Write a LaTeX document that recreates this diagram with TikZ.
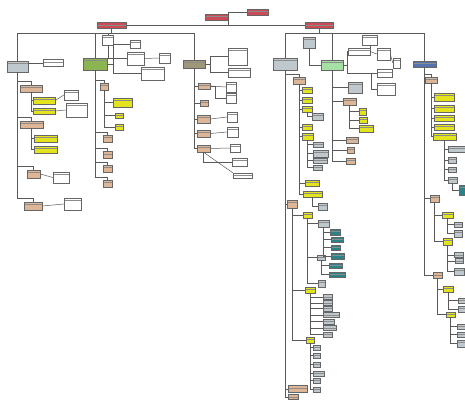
\documentclass[tikz,border=0pt]{standalone}
\usepackage{tikz}
\usetikzlibrary{positioning}
\definecolor{clsred}{RGB}{205,75,85}
\definecolor{clstan}{RGB}{222,182,150}
\definecolor{clsyel}{RGB}{228,228,30}
\definecolor{clsgrey}{RGB}{190,200,205}
\definecolor{clsteal}{RGB}{45,130,135}
\definecolor{clsolive}{RGB}{140,180,80}
\definecolor{clsmint}{RGB}{165,225,165}
\definecolor{clsblue}{RGB}{85,115,175}
\definecolor{clsdrab}{RGB}{160,150,120}
\tikzset{sz/.style 2 args={minimum width=#1pt, minimum height=#2pt},
  hdr/.style={path picture={\draw[black!45, line width=0.3pt] ([yshift=-2.5pt]path picture bounding box.north west) -- ([yshift=-2.5pt]path picture bounding box.north east);}}}
\begin{document}
\begin{tikzpicture}[x=1pt,y=-1pt]
  \tikzstyle{box}=[rectangle, draw=black!60, line width=0.4pt, inner sep=0pt]
  \tikzstyle{redbox}=[box, fill=clsred, hdr]
  \tikzstyle{tanbox}=[box, fill=clstan, hdr]
  \tikzstyle{yelbox}=[box, fill=clsyel, hdr]
  \tikzstyle{greybox}=[box, fill=clsgrey, hdr]
  \tikzstyle{whitebox}=[box, fill=white, hdr]
  \tikzstyle{tealbox}=[box, fill=clsteal, hdr]
  \tikzstyle{connect}=[draw=black!65, line width=0.5pt]
  \useasboundingbox (0,0) rectangle (465,399);
  \node[redbox, sz={21}{6}] (top) at (257.5,12) {};
  \node[redbox, sz={23}{6}] (mid) at (216.5,17) {};
  \node[redbox, sz={29}{6}] (left) at (111.5,25.5) {};
  \node[redbox, sz={28}{6}] (right) at (319,25.5) {};
  \coordinate (jn) at (228,25.5);
  \coordinate (ltop) at (17.5,33);
  \coordinate (lend) at (194,33);
  \coordinate (rtop) at (285,33);
  \coordinate (rend) at (424.5,33);
  \draw[connect] (left) -- (right);
  \draw[connect] (top.west) -| (jn);
  \draw[connect] (mid.east) -- (mid.east -| jn);
  \draw[connect] (left.south) -- (left.south |- ltop);
  \draw[connect] (ltop) -- (lend);
  \draw[connect] (right.south) -- (right.south |- rtop);
  \draw[connect] (rtop) -- (rend);
  % left column
  \node[greybox, sz={21}{11}] (a1) at (17.5,66.5) {};
  \node[whitebox, sz={20}{7}] (a1w) at (53,63) {};
  \node[tanbox, sz={22}{7}] (a2) at (31,88.5) {};
  \node[yelbox, sz={22}{7}] (y1) at (44,100.5) {};
  \node[yelbox, sz={22}{6}] (y2) at (44,111) {};
  \node[whitebox, sz={14}{10}] (w1) at (71,95) {};
  \node[whitebox, sz={21}{14}] (w2) at (76.5,110) {};
  \node[tanbox, sz={23}{7}] (a3) at (31.5,124.5) {};
  \node[yelbox, sz={23}{7}] (y3) at (45.5,138.5) {};
  \node[yelbox, sz={23}{7}] (y4) at (45.5,149.5) {};
  \node[tanbox, sz={13}{8}] (a4) at (33.5,174) {};
  \node[whitebox, sz={16}{11}] (a4w) at (61,177.5) {};
  \node[tanbox, sz={18}{8}] (a5) at (33,206) {};
  \node[whitebox, sz={17}{12}] (a5w) at (72.5,204) {};
  \draw[connect] (ltop) -- (a1);
  \draw[connect] (a1w.west -| a1.east) -- (a1w.west);
  \foreach \c in {a2,a3,a4,a5}
    \draw[connect] (\c.north) -- ++(0,-4) -| (a1.south);
  \draw[connect] (a2.south) |- (y1.west);
  \draw[connect] (a2.south) |- (y2.west);
  \draw[connect] (y1.east) -- (w1.west);
  \draw[connect] (y2.east) -- (w2.west);
  \draw[connect] (a3.south) |- (y3.west);
  \draw[connect] (a3.south) |- (y4.west);
  \draw[connect] (a4.east) -- (a4w.west);
  \draw[connect] (a5.east) -- (a5w.west);
  % second column
  \node[whitebox, sz={11}{10}] (b0) at (108,40) {};
  \node[box, fill=clsolive, hdr, sz={24}{12}] (b1) at (95,64) {};
  \node[whitebox, sz={10}{8}] (bw1) at (135,44) {};
  \node[whitebox, sz={17}{13}] (bw2) at (135.5,58.5) {};
  \node[whitebox, sz={11}{10}] (bw3) at (164.5,58) {};
  \node[whitebox, sz={23}{13}] (bw4) at (152.5,73.5) {};
  \node[tanbox, sz={8}{7}] (b2) at (104.5,86.5) {};
  \node[yelbox, sz={19}{9}] (b3) at (122.5,102.5) {};
  \node[yelbox, sz={8}{5}] (b4) at (119,115.5) {};
  \node[yelbox, sz={8}{6}] (b5) at (119,127) {};
  \foreach \n/\y in {6/138.5,7/155,8/168.5,9/183.5}
    \node[tanbox, sz={9}{7}] (b\n) at (107.5,\y) {};
  \draw[connect] (b1.north) -- (b1.north |- ltop);
  \draw[connect] (b0.north) -- (b0.north |- ltop);
  \draw[connect] (b0.south) -- (b0.south |- b1.north);
  \draw[connect] (b1.east) -- ++(6,0) |- (bw1.west);
  \draw[connect] (bw2.west) -- (bw2.west -| b1.east);
  \draw[connect] (bw2.east) -- (bw3.west);
  \draw[connect] (b1.east) -- ++(6,0) |- (bw4.west);
  \foreach \c in {b2,b6,b7,b8,b9}
    \draw[connect] (\c.north) -- ++(0,-3) -| (b1.south);
  \foreach \c in {b3,b4,b5}
    \draw[connect] (b2.south) |- (\c.west);
  % third column
  \node[box, fill=clsdrab, hdr, sz={22}{8}] (c1) at (194,64) {};
  \node[whitebox, sz={19}{17}] (cw1) at (237.5,56.5) {};
  \node[whitebox, sz={22}{9}] (cw2) at (239,72.5) {};
  \node[tanbox, sz={12}{6}] (c2) at (204,86) {};
  \node[whitebox, sz={10}{10}] (c2a) at (231,87) {};
  \node[whitebox, sz={10}{10}] (c2b) at (231,98) {};
  \node[tanbox, sz={8}{6}] (c3) at (204,103) {};
  \node[tanbox, sz={13}{8}] (c4) at (203.5,119) {};
  \node[whitebox, sz={10}{10}] (c4a) at (232,117) {};
  \node[tanbox, sz={13}{7}] (c5) at (203.5,133.5) {};
  \node[whitebox, sz={11}{10}] (c5a) at (232.5,132) {};
  \node[tanbox, sz={13}{7}] (c6) at (203.5,148.5) {};
  \node[whitebox, sz={10}{8}] (c6a) at (235,148) {};
  \node[whitebox, sz={15}{8}] (c6b) at (239.5,162) {};
  \node[whitebox, sz={19}{5}] (c6c) at (242.5,175.5) {};
  \draw[connect] (lend) -- (c1);
  \draw[connect] (c1.east) -- ++(5,0) |- (cw1.west);
  \draw[connect] (c1.east) -- ++(5,0) |- (cw2.west);
  \foreach \c in {c2,c3,c4,c5,c6}
    \draw[connect] (\c.west) -| (c1.south);
  \draw[connect] (c2.east) -- (c2a.west);
  \draw[connect] (c2.east) -- ++(5,0) |- (c2b.west);
  \draw[connect] (c4.east) -- (c4a.west);
  \draw[connect] (c5.east) -- (c5a.west);
  \draw[connect] (c6.east) -- (c6a.west);
  \draw[connect] (c6.south) |- (c6b.west);
  \draw[connect] (c6.south) -- (c6c.north west);
  % right half, first trunk
  \node[greybox, sz={24}{12}] (d1) at (285,64) {};
  \node[tanbox, sz={12}{7}] (d2) at (299,80.5) {};
  \foreach \n/\y in {1/90,2/100,3/109,4/127}
    \node[yelbox, sz={10}{6}] (dy\n) at (307,\y) {};
  \node[yelbox, sz={11}{7}] (dy5) at (307.5,136.5) {};
  \node[yelbox, sz={14}{6}] (dy6) at (312,183) {};
  \node[yelbox, sz={19}{6}] (dy7) at (312.5,194) {};
  \node[greybox, sz={11}{7}] (dg1) at (317.5,116.5) {};
  \node[greybox, sz={10}{5}] (dh1) at (318,144.5) {};
  \node[greybox, sz={15}{7}] (dh2) at (320.5,153.5) {};
  \node[greybox, sz={14}{5}] (dh3) at (320,160.5) {};
  \node[greybox, sz={9}{5}] (dh4) at (317.5,167.5) {};
  \node[greybox, sz={9}{7}] (dg7) at (322.5,206.5) {};
  \draw[connect] (rtop) -- (d1);
  \draw[connect] (d2.north) -- ++(0,-3) -| (d1.south);
  \foreach \n in {1,...,7}
    \draw[connect] (d2.south) |- (dy\n.west);
  \draw[connect] (dy3.south) |- (dg1.west);
  \foreach \n in {1,...,4}
    \draw[connect] (dy5.south) |- (dh\n.west);
  \draw[connect] (dy7.south) |- (dg7.west);
  \node[tanbox, sz={10}{8}] (d3) at (292,204) {};
  \node[yelbox, sz={9}{6}] (dy8) at (307.5,215) {};
  \node[greybox, sz={11}{7}] (dg2) at (323.5,223.5) {};
  \node[tealbox, sz={10}{6}] (t1) at (335,232) {};
  \node[tealbox, sz={12}{5}] (t2) at (337,239.5) {};
  \node[tealbox, sz={9}{5}] (t3) at (335.5,247.5) {};
  \node[tealbox, sz={13}{6}] (t4) at (337.5,256) {};
  \node[greybox, sz={8}{5}] (dg3) at (321,257.5) {};
  \node[tealbox, sz={13}{5}] (t5) at (335.5,265.5) {};
  \node[tealbox, sz={16}{5}] (t6) at (337,274.5) {};
  \node[greybox, sz={7}{7}] (dg4) at (321.5,283.5) {};
  \node[yelbox, sz={10}{6}] (dy9) at (310,290) {};
  \node[yelbox, sz={8}{6}] (dy10) at (310,340) {};
  \draw[connect] (d3.west) -| (d1.south);
  \foreach \c in {dy8,dy9,dy10}
    \draw[connect] (d3.south) |- (\c.west);
  \foreach \c in {dg2,dg3,dg4}
    \draw[connect] (dy8.south) |- (\c.west);
  \foreach \c in {t1,t2,t3,t4}
    \draw[connect] (dg2.south) |- (\c.west);
  \foreach \c in {t5,t6}
    \draw[connect] (dg3.south) |- (\c.west);
  \foreach \n/\y/\w in {1/297/9,2/303/9,3/308.5/9,4/315/16,5/321.5/11,6/328/13,7/334.5/9} {
    \node[greybox, sz={\w}{5}, anchor=west] (dp\n) at (323,\y) {};
    \draw[connect] (dy9.south) |- (dp\n.west);
  }
  \foreach \n/\y/\w in {1/347.5/7,2/355.5/7,3/364.5/7,4/373.5/11,5/380.5/7,6/389.5/7} {
    \node[greybox, sz={\w}{5}, anchor=west] (dq\n) at (313,\y) {};
    \draw[connect] (dy10.south) |- (dq\n.west);
  }
  \node[tanbox, sz={19}{7}] (d4) at (297.5,389) {};
  \node[tanbox, sz={10}{5}] (d5) at (293,397) {};
  \draw[connect] (d4.west) -| (d1.south);
  \draw[connect] (d5.west) -| (d1.south);
  % right half, second trunk
  \node[greybox, sz={12}{11}] (e0) at (309,42.5) {};
  \node[box, fill=clsmint, hdr, sz={22}{10}] (e1) at (332,65) {};
  \node[whitebox, sz={15}{10}] (ea) at (370,40) {};
  \node[whitebox, sz={22}{7}] (eb) at (359,51.5) {};
  \node[whitebox, sz={13}{12}] (ec) at (383.5,54) {};
  \node[whitebox, sz={7}{10}] (ed) at (396.5,63) {};
  \node[whitebox, sz={15}{8}] (ee) at (384.5,73.5) {};
  \node[whitebox, sz={18}{12}] (ef) at (386,89) {};
  \node[greybox, sz={14}{11}] (eg) at (355,87.5) {};
  \node[tanbox, sz={13}{7}] (e2) at (349.5,101.5) {};
  \node[yelbox, sz={7}{7}] (ey1) at (362.5,111.5) {};
  \node[yelbox, sz={8}{6}] (ey2) at (363,120) {};
  \node[yelbox, sz={14}{7}] (ey3) at (366,128.5) {};
  \node[tanbox, sz={12}{6}] (e3) at (352,140) {};
  \node[tanbox, sz={7}{6}] (e4) at (350.5,150) {};
  \node[tanbox, sz={9}{6}] (e5) at (350.5,161) {};
  \draw[connect] (e1.north) -- (e1.north |- rtop);
  \draw[connect] (e0.south) |- (e1.west);
  \draw[connect] (e1.east) -- ++(4,0) |- (eb.west);
  \draw[connect] (ea.south) -- (ea.south |- eb.north);
  \draw[connect] (eb.east) -- (ec.west);
  \draw[connect] (ec.east) -- (ed.west);
  \draw[connect] (e1.east) -- ++(4,0) |- (ee.west);
  \draw[connect] (ee.west) -- ++(-6,0) |- (ef.west);
  \foreach \c in {eg,e2,e3,e4,e5}
    \draw[connect] (\c.west) -| (e1.south);
  \foreach \c in {ey1,ey2,ey3}
    \draw[connect] (e2.south) |- (\c.west);
  % right half, third trunk
  \node[box, fill=clsblue, hdr, sz={23}{6}] (f1) at (424.5,64) {};
  \node[tanbox, sz={12}{6}] (f2) at (431,80) {};
  \foreach \n/\y/\h in {1/97/8,2/108.5/7,3/118/6,4/127/6}
    \node[yelbox, sz={20}{\h}] (fy\n) at (444,\y) {};
  \node[yelbox, sz={23}{7}] (fy5) at (444.5,136.5) {};
  \node[greybox, sz={18}{6}] (fg1) at (457,149) {};
  \node[greybox, sz={8}{6}] (fg2) at (452,160) {};
  \node[greybox, sz={8}{5}] (fg3) at (452,169.5) {};
  \node[greybox, sz={9}{6}] (fg4) at (452.5,180) {};
  \node[tealbox, sz={7}{10}] (ft) at (462.5,190) {};
  \draw[connect] (rend) -- (f1);
  \draw[connect] (f2.north) -- ++(0,-3) -| (f1.south);
  \foreach \n in {1,...,5}
    \draw[connect] (f2.south) |- (fy\n.west);
  \foreach \n in {1,...,4}
    \draw[connect] (fy5.south) |- (fg\n.west);
  \draw[connect] (fg4.south) |- (ft.west);
  \node[tanbox, sz={9}{7}] (f8) at (434.5,198.5) {};
  \node[yelbox, sz={11}{6}] (fy8) at (447.5,215) {};
  \node[greybox, sz={8}{5}] (fh1) at (458,224.5) {};
  \node[greybox, sz={8}{7}] (fh2) at (458,233.5) {};
  \node[yelbox, sz={9}{7}] (fy9) at (447.5,241.5) {};
  \node[greybox, sz={9}{5}] (fh3) at (458.5,255) {};
  \node[greybox, sz={8}{5}] (fh4) at (459,261) {};
  \node[greybox, sz={10}{7}] (fh5) at (459,271.5) {};
  \draw[connect] (f8.west) -| (f1.south);
  \draw[connect] (f8.south) |- (fy8.west);
  \draw[connect] (f8.south) |- (fy9.west);
  \draw[connect] (fy8.south) |- (fh1.west);
  \draw[connect] (fy8.south) |- (fh2.west);
  \foreach \n in {3,4,5}
    \draw[connect] (fy9.south) |- (fh\n.west);
  \node[tanbox, sz={9}{6}] (f9) at (437.5,275.5) {};
  \node[yelbox, sz={10}{6}] (fy10) at (448,289) {};
  \node[greybox, sz={7}{5}] (fk1) at (462,300.5) {};
  \node[greybox, sz={7}{6}] (fk2) at (462,309) {};
  \node[yelbox, sz={9}{5}] (fy11) at (450.5,314.5) {};
  \node[greybox, sz={8}{5}] (fk3) at (461,326.5) {};
  \node[greybox, sz={8}{5}] (fk4) at (461,334.5) {};
  \node[greybox, sz={8}{7}] (fk5) at (461,343.5) {};
  \draw[connect] (f9.west) -| (f1.south);
  \draw[connect] (f9.south) |- (fy10.west);
  \draw[connect] (f9.south) |- (fy11.west);
  \draw[connect] (fy10.south) |- (fk1.west);
  \draw[connect] (fy10.south) |- (fk2.west);
  \foreach \n in {3,4,5}
    \draw[connect] (fy11.south) |- (fk\n.west);
\end{tikzpicture}
\end{document}
